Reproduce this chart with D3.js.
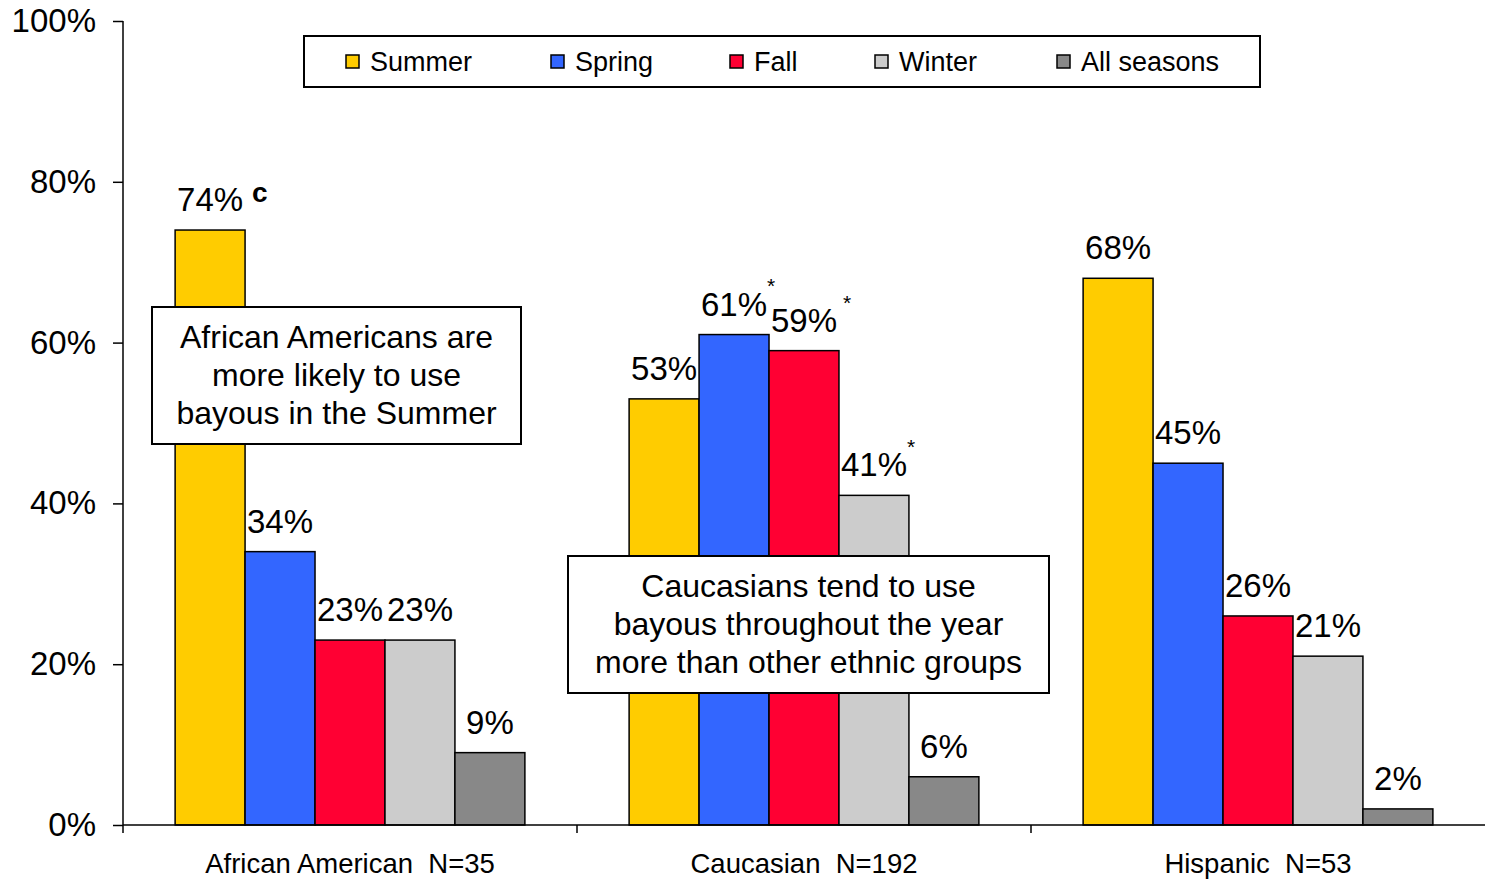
<!DOCTYPE html>
<html>
<head>
<meta charset="utf-8">
<script src="https://cdn.jsdelivr.net/npm/d3@7"></script>
<style>
  html, body { margin: 0; padding: 0; background: #fff; }
  text { font-family: Arial, "Liberation Sans", Helvetica, sans-serif; fill: #000; white-space: pre; }
</style>
</head>
<body>
<svg id="chart" width="1485" height="880"></svg>
<script>
// ---- data ----
const categories = ["African American  N=35", "Caucasian  N=192", "Hispanic  N=53"];
const seriesNames = ["Summer", "Spring", "Fall", "Winter", "All seasons"];
const summer = [74, 53, 68];
const spring = [34, 61, 45];
const fall = [23, 59, 26];
const winter = [23, 41, 21];
const allSeasons = [9, 6, 2];
const yTicks = [0, 20, 40, 60, 80, 100];
const seriesColors = ["#FFCC00", "#3366FF", "#FF0033", "#CCCCCC", "#888888"];
// superscript marks: [categoryIndex, seriesIndex, text]
const marks = [[0, 0, "c"], [1, 1, "*"], [1, 2, "*"], [1, 3, "*"]];
const notes = [
  ["African Americans are", "more likely to use", "bayous in the Summer"],
  ["Caucasians tend to use", "bayous throughout the year", "more than other ethnic groups"]
];

const seriesValues = [summer, spring, fall, winter, allSeasons];

// ---- layout ----
const svg = d3.select("#chart");
const mLeft = 123, mRight = 1485, mTop = 21, mBottom = 825;

const x0 = d3.scaleBand().domain(categories).range([mLeft, mRight]).paddingInner(0).paddingOuter(0);
const x1 = d3.scaleBand().domain(seriesNames).range([0, x0.bandwidth()]).paddingInner(0).paddingOuter(0.745);
const y = d3.scaleLinear().domain([0, 100]).range([mBottom, mTop]);

// bars
const groups = svg.append("g").selectAll("g")
  .data(categories)
  .join("g")
  .attr("transform", c => `translate(${x0(c)},0)`);

groups.selectAll("rect")
  .data((c, ci) => seriesNames.map((s, si) => ({ s, si, ci, v: seriesValues[si][ci] })))
  .join("rect")
  .attr("x", d => x1(d.s))
  .attr("y", d => y(d.v))
  .attr("width", x1.bandwidth())
  .attr("height", d => y(0) - y(d.v))
  .attr("fill", d => seriesColors[d.si])
  .attr("stroke", "#000")
  .attr("stroke-width", 1.5);

// value labels
groups.selectAll("text.val")
  .data((c, ci) => seriesNames.map((s, si) => ({ s, si, ci, v: seriesValues[si][ci] })))
  .join("text")
  .attr("class", "val")
  .attr("x", d => x1(d.s) + x1.bandwidth() / 2)
  .attr("y", d => y(d.v) - 19)
  .attr("text-anchor", "middle")
  .style("font-size", "33px")
  .text(d => d.v + "%");

// superscript marks
const markOffsets = [[42, -9, 28, "bold"], [33, -23, 21, "normal"], [39, -22, 21, "normal"], [33, -22, 21, "normal"]];
marks.forEach((m, i) => {
  const [ci, si, t] = m;
  const cx = x0(categories[ci]) + x1(seriesNames[si]) + x1.bandwidth() / 2;
  const o = markOffsets[i];
  svg.append("text")
    .attr("x", cx + o[0])
    .attr("y", y(seriesValues[si][ci]) - 19 + o[1])
    .style("font-size", o[2] + "px")
    .style("font-weight", o[3])
    .text(t);
});

// y axis
const yAxis = d3.axisLeft(y).tickValues(yTicks).tickSize(10).tickPadding(17).tickFormat(d => d + "%");
const gy = svg.append("g").attr("transform", `translate(${mLeft},0)`).call(yAxis);
gy.select(".domain").attr("stroke", "#000").attr("stroke-width", 1.5).attr("d", `M0,${mTop}V${mBottom}`);
gy.selectAll(".tick line").attr("stroke", "#000").attr("stroke-width", 1.5);
gy.selectAll(".tick text").style("font-size", "33px").style("font-family", "Arial, 'Liberation Sans', sans-serif").attr("fill", "#000");

// x axis
const gx = svg.append("g");
gx.append("line").attr("x1", mLeft).attr("x2", mRight).attr("y1", mBottom).attr("y2", mBottom)
  .attr("stroke", "#000").attr("stroke-width", 1.5);
gx.selectAll("line.tk").data(categories).join("line")
  .attr("class", "tk")
  .attr("x1", c => x0(c)).attr("x2", c => x0(c))
  .attr("y1", mBottom).attr("y2", mBottom + 8)
  .attr("stroke", "#000").attr("stroke-width", 1.5);
gx.selectAll("text").data(categories).join("text")
  .attr("x", c => x0(c) + x0.bandwidth() / 2)
  .attr("y", 873)
  .attr("text-anchor", "middle")
  .style("font-size", "27.5px")
  .text(c => c);

// legend
const legend = svg.append("g");
legend.append("rect").attr("x", 304).attr("y", 36).attr("width", 956).attr("height", 51)
  .attr("fill", "#fff").attr("stroke", "#000").attr("stroke-width", 2);
const legendX = [346, 551, 730, 875, 1057];
seriesNames.forEach((s, i) => {
  legend.append("rect").attr("x", legendX[i]).attr("y", 55).attr("width", 13).attr("height", 13)
    .attr("fill", seriesColors[i]).attr("stroke", "#000").attr("stroke-width", 1.5);
  legend.append("text").attr("x", legendX[i] + 24).attr("y", 71).style("font-size", "27px").text(s);
});

// annotation boxes
const noteBoxes = [[152, 307, 369, 137], [568, 556, 481, 137]];
notes.forEach((lines, i) => {
  const [bx, by, bw, bh] = noteBoxes[i];
  const g = svg.append("g");
  g.append("rect").attr("x", bx).attr("y", by).attr("width", bw).attr("height", bh)
    .attr("fill", "#fff").attr("stroke", "#000").attr("stroke-width", 2);
  lines.forEach((ln, j) => {
    g.append("text").attr("x", bx + bw / 2).attr("y", by + 41 + j * 38)
      .attr("text-anchor", "middle").style("font-size", "32px").text(ln);
  });
});
</script>
</body>
</html>
